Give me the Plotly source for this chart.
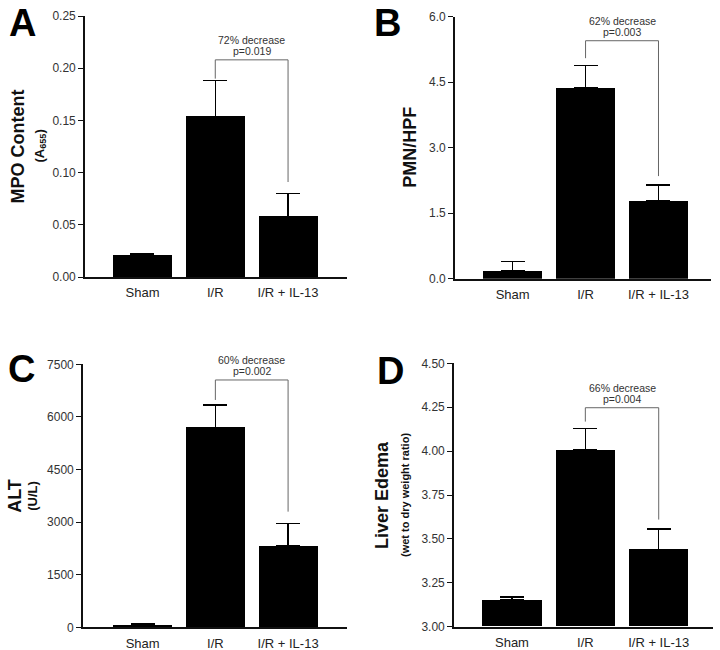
import plotly.graph_objects as go

categories = ["Sham", "I/R", "I/R + IL-13"]

# Panel A: MPO content
mpo_mean = [0.021, 0.154, 0.058]
mpo_err = [0.0015, 0.034, 0.022]
# Panel B: PMN/HPF
pmn_mean = [0.18, 4.37, 1.78]
pmn_err = [0.21, 0.51, 0.37]
# Panel C: ALT
alt_mean = [57, 5703, 2319]
alt_err = [38, 637, 647]
# Panel D: Liver edema
ede_mean = [3.152, 4.006, 3.44]
ede_err = [0.017, 0.124, 0.116]

# significance brackets: (top, left leg end, right leg end)
brackets = {
    "A": (0.208, 0.190, 0.091),
    "B": (5.45, 5.05, 2.35),
    "C": (7053, 6483, 3298),
    "D": (4.247, 4.168, 3.61),
}
pct_text = {"A": "72% decrease", "B": "62% decrease", "C": "60% decrease", "D": "66% decrease"}
p_text = {"A": "p=0.019", "B": "p=0.003", "C": "p=0.002", "D": "p=0.004"}

W, H = 720, 650

panels = [
    dict(key="A", mean=mpo_mean, err=mpo_err, ax="", px=(85, 347), py=(16, 277),
         xr=[-0.79, 2.81], yr=[0, 0.25], tickvals=[0, 0.05, 0.10, 0.15, 0.20, 0.25], fmt=".2f",
         title="MPO Content", sub="(A<sub>655</sub>)", tx=17, sx=40, letter=(22, 23)),
    dict(key="B", mean=pmn_mean, err=pmn_err, ax="2", px=(455, 711), py=(16.7, 278.7),
         xr=[-0.79, 2.72], yr=[0, 6.0], tickvals=[0, 1.5, 3.0, 4.5, 6.0], fmt=".1f",
         title="PMN/HPF", sub=None, tx=410, sx=None, letter=(387, 23)),
    dict(key="C", mean=alt_mean, err=alt_err, ax="3", px=(83, 347), py=(364.3, 627.3),
         xr=[-0.82, 2.81], yr=[0, 7500], tickvals=[0, 1500, 3000, 4500, 6000, 7500], fmt="d",
         title="ALT", sub="(U/L)", tx=15, sx=33, letter=(21, 369)),
    dict(key="D", mean=ede_mean, err=ede_err, ax="4", px=(454, 713), py=(363.3, 626.7),
         xr=[-0.79, 2.74], yr=[3.0, 4.5], tickvals=[3.0, 3.25, 3.5, 3.75, 4.0, 4.25, 4.5], fmt=".2f",
         title="Liver Edema", sub="(wet to dry weight ratio)", tx=382, sx=405, letter=(390, 371)),
]

FONT = "Liberation Sans, Arial, Helvetica, sans-serif"
fig = go.Figure()
layout = dict(width=W, height=H, margin=dict(l=0, r=0, t=0, b=0, autoexpand=False),
              paper_bgcolor="white", plot_bgcolor="white", showlegend=False,
              font=dict(family=FONT, color="#222"), bargap=0)
shapes = []
annotations = []

for p in panels:
    ax = p["ax"]
    xname, yname = "x" + ax, "y" + ax
    base = p["yr"][0]
    fig.add_trace(go.Bar(
        x=[0, 1, 2], y=[m - base for m in p["mean"]], base=base, width=0.81,
        marker=dict(color="black", line=dict(width=0)),
        error_y=dict(type="data", array=p["err"], arrayminus=[0, 0, 0], symmetric=False,
                     width=12, thickness=1.4, color="black"),
        xaxis=xname, yaxis=yname, hoverinfo="skip"))
    xd = [p["px"][0] / W, p["px"][1] / W]
    yd = [1 - p["py"][1] / H, 1 - p["py"][0] / H]
    layout["xaxis" + ax] = dict(domain=xd, range=p["xr"], anchor=yname, automargin=False,
                                tickmode="array", tickvals=[0, 1, 2], ticktext=categories,
                                showline=True, linecolor="#111", linewidth=1.6,
                                ticks="outside", ticklen=3, tickcolor="rgba(0,0,0,0)",
                                tickfont=dict(size=13, color="#222"), showgrid=False,
                                zeroline=False, fixedrange=True)
    if p["fmt"] == "d":
        ticktext = [f"{int(v)}" for v in p["tickvals"]]
    else:
        ticktext = [format(v, p["fmt"]) for v in p["tickvals"]]
    layout["yaxis" + ax] = dict(domain=yd, range=p["yr"], anchor=xname, automargin=False,
                                tickmode="array", tickvals=p["tickvals"], ticktext=ticktext,
                                showline=True, linecolor="#111", linewidth=1.6,
                                ticks="outside", ticklen=5, tickwidth=1.4, tickcolor="#111",
                                tickfont=dict(size=12, color="#333"), showgrid=False,
                                zeroline=False, fixedrange=True)
    # bracket
    top, lend, rend = brackets[p["key"]]
    lc = dict(color="#666", width=1)
    shapes.append(dict(type="line", xref=xname, yref=yname, x0=1, x1=2, y0=top, y1=top, line=lc))
    shapes.append(dict(type="line", xref=xname, yref=yname, x0=1, x1=1, y0=lend, y1=top, line=lc))
    shapes.append(dict(type="line", xref=xname, yref=yname, x0=2, x1=2, y0=rend, y1=top, line=lc))
    annotations.append(dict(xref=xname, yref=yname, x=1.5, y=top, text=p_text[p["key"]],
                            showarrow=False, yanchor="bottom", yshift=1,
                            font=dict(size=10.5, color="#333")))
    annotations.append(dict(xref=xname, yref=yname, x=1.5, y=top, text=pct_text[p["key"]],
                            showarrow=False, yanchor="bottom", yshift=12,
                            font=dict(size=10.5, color="#333")))
    # axis titles
    cy = 1 - (p["py"][0] + p["py"][1]) / 2 / H
    annotations.append(dict(xref="paper", yref="paper", x=p["tx"] / W, y=cy,
                            text="<b>" + p["title"] + "</b>", textangle=-90, showarrow=False,
                            xanchor="center", yanchor="middle",
                            font=dict(size=18, color="#111")))
    if p["sub"]:
        annotations.append(dict(xref="paper", yref="paper", x=p["sx"] / W, y=cy,
                                text="<b>" + p["sub"] + "</b>", textangle=-90, showarrow=False,
                                xanchor="center", yanchor="middle",
                                font=dict(size=13 if p["key"] != "D" else 11, color="#111")))
    # panel letter
    annotations.append(dict(xref="paper", yref="paper", x=p["letter"][0] / W, y=1 - p["letter"][1] / H,
                            text="<b>" + p["key"] + "</b>", showarrow=False,
                            xanchor="center", yanchor="middle",
                            font=dict(size=38, color="black")))

layout["shapes"] = shapes
layout["annotations"] = annotations
fig.update_layout(**layout)
fig.write_html("out.html", config={"displayModeBar": False},
               post_script="document.body.style.margin='0';document.body.style.padding='0';")
